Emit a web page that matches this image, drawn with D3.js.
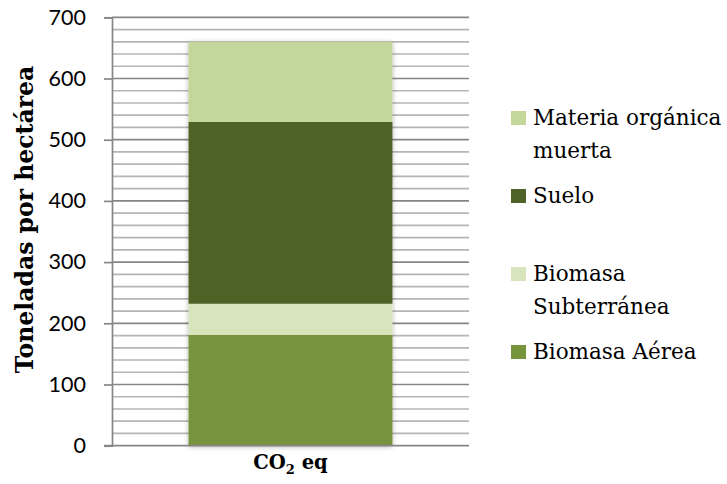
<!DOCTYPE html>
<html>
<head>
<meta charset="utf-8">
<script src="https://cdn.jsdelivr.net/npm/d3@7"></script>
<style>
  html, body { margin: 0; padding: 0; background: #fff; }
  svg { display: block; }
</style>
</head>
<body>
<script>
// Carbon stock per hectare, stacked by component (t CO2 eq / ha)
const categories = ["CO2 eq"];
const seriesNames = ["Biomasa Aérea", "Biomasa Subterránea", "Suelo", "Materia orgánica muerta"];
const biomasaAerea = [181];
const biomasaSubterranea = [51];
const suelo = [297];
const materiaOrganica = [131];
const seriesColors = ["#77933C", "#D8E4BC", "#4F6228", "#C4D79B"];

const yMajorTicks = [0, 100, 200, 300, 400, 500, 600, 700];
const yMinorStep = 20;

// Legend entries, top to bottom, with their line breaks
const legendItems = [
  { key: "Materia orgánica muerta", lines: ["Materia orgánica", "muerta"] },
  { key: "Suelo", lines: ["Suelo"] },
  { key: "Biomasa Subterránea", lines: ["Biomasa", "Subterránea"] },
  { key: "Biomasa Aérea", lines: ["Biomasa Aérea"] }
];

const W = 727, H = 484;
const plot = { left: 112, right: 469, top: 17.3, bottom: 445.7 };

const svg = d3.select("body").append("svg")
  .attr("width", W).attr("height", H);

const defs = svg.append("defs");
const shadow = defs.append("filter").attr("id", "barShadow")
  .attr("x", "-10%").attr("y", "-5%").attr("width", "120%").attr("height", "110%");
shadow.append("feDropShadow")
  .attr("dx", 0).attr("dy", 1).attr("stdDeviation", 2.5)
  .attr("flood-color", "#000").attr("flood-opacity", 0.3);

const y = d3.scaleLinear().domain([0, 700]).range([plot.bottom, plot.top]);
const x = d3.scaleBand().domain(categories)
  .range([plot.left, plot.right]).padding(0.273);

const color = d3.scaleOrdinal().domain(seriesNames).range(seriesColors);

// Gridlines: minor every 20, major every 100
const minorTicks = d3.range(0, 701, yMinorStep).filter(v => v % 100 !== 0);
const grid = svg.append("g");
grid.selectAll("line.minor").data(minorTicks).join("line")
  .attr("class", "minor")
  .attr("x1", plot.left).attr("x2", plot.right)
  .attr("y1", d => y(d)).attr("y2", d => y(d))
  .attr("stroke", "#b5b5b5").attr("stroke-width", 1.7);
grid.selectAll("line.major").data(yMajorTicks.filter(v => v > 0)).join("line")
  .attr("class", "major")
  .attr("x1", plot.left).attr("x2", plot.right)
  .attr("y1", d => y(d)).attr("y2", d => y(d))
  .attr("stroke", "#868686").attr("stroke-width", 1.7);

// Stacked bar
const table = categories.map((c, i) => ({
  category: c,
  "Biomasa Aérea": biomasaAerea[i],
  "Biomasa Subterránea": biomasaSubterranea[i],
  "Suelo": suelo[i],
  "Materia orgánica muerta": materiaOrganica[i]
}));
const stacked = d3.stack().keys(seriesNames)(table);

const bars = svg.append("g").attr("filter", "url(#barShadow)");
bars.selectAll("g").data(stacked).join("g")
  .attr("fill", d => color(d.key))
  .selectAll("rect").data(d => d).join("rect")
  .attr("x", d => x(d.data.category))
  .attr("width", x.bandwidth())
  .attr("y", d => y(d[1]))
  .attr("height", d => y(d[0]) - y(d[1]));

// Y axis
const yAxis = svg.append("g")
  .attr("transform", `translate(${plot.left},0)`)
  .call(d3.axisLeft(y).tickValues(yMajorTicks).tickSize(8).tickPadding(18));
yAxis.select(".domain").attr("stroke", "#868686").attr("stroke-width", 1.7);
yAxis.selectAll(".tick line").attr("stroke", "#868686").attr("stroke-width", 1.7);
yAxis.selectAll(".tick text")
  .attr("font-family", "Lato, 'Open Sans', sans-serif")
  .attr("font-size", 21.5).attr("fill", "#000");

// X axis baseline
svg.append("line")
  .attr("x1", plot.left - 8).attr("x2", plot.right)
  .attr("y1", y(0)).attr("y2", y(0))
  .attr("stroke", "#868686").attr("stroke-width", 1.7);

// Category label: CO₂ eq
const xl = svg.append("text")
  .attr("x", x(categories[0]) + x.bandwidth() / 2).attr("y", 469)
  .attr("text-anchor", "middle")
  .attr("font-family", "'DejaVu Serif', serif").attr("font-weight", "bold")
  .attr("font-size", 19.5).attr("fill", "#000");
xl.append("tspan").text("CO");
xl.append("tspan").attr("font-size", 13).attr("dy", 5).text("2");
xl.append("tspan").attr("dy", -5).text(" eq");

// Y axis title
svg.append("text")
  .attr("transform", `translate(33,${(plot.top + plot.bottom) / 2 - 12}) rotate(-90)`)
  .attr("text-anchor", "middle")
  .attr("font-family", "'DejaVu Serif', serif").attr("font-weight", "bold")
  .attr("font-size", 23.5).attr("fill", "#000")
  .text("Toneladas por hectárea");

// Legend
const legend = svg.append("g").attr("transform", "translate(511,0)");
const legendTop = 125, legendStep = 78, lineH = 33;
const li = legend.selectAll("g").data(legendItems).join("g")
  .attr("transform", (d, i) => `translate(0,${legendTop + i * legendStep})`);
li.append("rect")
  .attr("x", 0).attr("y", -14).attr("width", 15).attr("height", 14)
  .attr("fill", d => color(d.key));
li.append("text")
  .attr("font-family", "'DejaVu Serif', serif").attr("font-size", 21.5).attr("fill", "#000")
  .selectAll("tspan").data(d => d.lines).join("tspan")
  .attr("x", 22).attr("y", (d, i) => i * lineH)
  .text(d => d);
</script>
</body>
</html>
